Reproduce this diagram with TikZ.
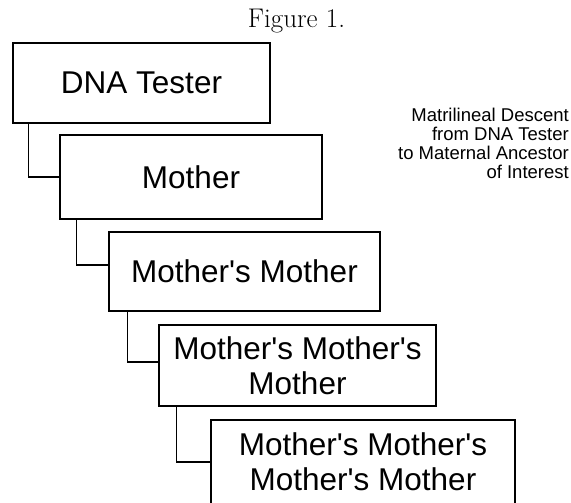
\documentclass[tikz,border=0pt]{standalone}
\usepackage{fontspec}
\newfontfamily\arialfont{Liberation Sans}

\begin{document}
\begin{tikzpicture}[x=1pt, y=-1pt,
		person/.style={draw, line width=1.3pt, inner sep=0pt, align=center,
			font=\arialfont\fontsize{31.5}{35}\selectfont},
		link/.style={line width=1.3pt}]
		\useasboundingbox (0, 0) rectangle (571, 503);
		
		\node[anchor=base, font=\fontsize{27}{30}\selectfont] (title) at (296.5, 28) {Figure 1.};
		
		\node[person, minimum width=257pt, minimum height=80pt] (tester) at (141.5, 83) {DNA Tester};
		\node[person, minimum width=262pt, minimum height=84pt] (mother) at (191, 177) {Mother};
		\node[person, minimum width=271pt, minimum height=79pt] (gmother) at (244.5, 271.5) {Mother's Mother};
		\node[person, minimum width=277pt, minimum height=81pt] (ggmother) at (297.5, 365.5) {Mother's Mother's\\Mother};
		\node[person, minimum width=304pt, minimum height=84pt] (gggmother) at (363, 462) {Mother's Mother's\\Mother's Mother};
		
		\draw[link] ([xshift=16pt]tester.south west) |- (mother.west);
		\draw[link] ([xshift=17pt]mother.south west) |- ([yshift=6.5pt]gmother.west);
		\draw[link] ([xshift=19pt]gmother.south west) |- ([yshift=3.5pt]ggmother.west);
		\draw[link] ([xshift=18pt]ggmother.south west) |- (gggmother.west);
		
		\node[anchor=east, align=right, inner sep=0pt,
			font=\arialfont\fontsize{18.5}{19}\selectfont] (caption) at (569, 143)
			{Matrilineal Descent\\from DNA Tester\\to Maternal Ancestor\\of Interest};
	\end{tikzpicture}
\end{document}
